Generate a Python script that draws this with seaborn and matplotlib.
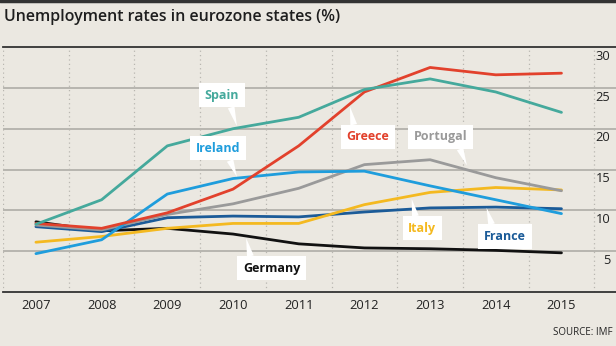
import matplotlib
matplotlib.use("Agg")
import matplotlib.pyplot as plt
import seaborn as sns
import pandas as pd
import numpy as np

years = [2007, 2008, 2009, 2010, 2011, 2012, 2013, 2014, 2015]
spain = [8.3, 11.3, 17.9, 20.0, 21.4, 24.8, 26.1, 24.5, 22.0]
greece = [8.4, 7.8, 9.7, 12.6, 17.9, 24.5, 27.5, 26.6, 26.8]
ireland = [4.7, 6.4, 12.0, 13.9, 14.7, 14.8, 13.0, 11.3, 9.6]
portugal = [8.2, 7.6, 9.5, 10.8, 12.7, 15.6, 16.2, 14.0, 12.4]
italy = [6.1, 6.8, 7.8, 8.4, 8.4, 10.7, 12.2, 12.8, 12.5]
france = [8.0, 7.4, 9.1, 9.3, 9.2, 9.8, 10.3, 10.4, 10.2]
germany = [8.6, 7.5, 7.8, 7.1, 5.9, 5.4, 5.3, 5.1, 4.8]

countries = ["Spain", "Greece", "Ireland", "Portugal", "Italy", "France", "Germany"]
series = [spain, greece, ireland, portugal, italy, france, germany]
colors = {"Spain": "#45a99c", "Greece": "#e2412c", "Ireland": "#1f9ddc",
          "Portugal": "#9a9a9a", "Italy": "#f4b920", "France": "#1b5b98",
          "Germany": "#111111"}
yticks = [5, 10, 15, 20, 25, 30]

df = pd.DataFrame([(c, y, v) for c, s in zip(countries, series) for y, v in zip(years, s)],
                  columns=["country", "year", "rate"])

bg = "#ebe8e1"
sns.set_theme(style="white")
plt.rcParams["font.family"] = ["Open Sans", "DejaVu Sans"]

fig = plt.figure(figsize=(6.16, 3.46), dpi=100, facecolor=bg)
ax = fig.add_axes([0.005, 0.156, 0.995, 0.708])
ax.set_facecolor(bg)

# grid
for v in yticks[:-1]:
    ax.axhline(v, color="#b3b1ab", lw=1.3, zorder=1)
for x in np.arange(2006.5, 2016, 1.0):
    ax.axvline(x, color="#b8b6b0", lw=0.9, ls=(0, (1, 2.5)), zorder=1)

sns.lineplot(data=df, x="year", y="rate", hue="country", palette=colors,
             hue_order=countries[::-1], lw=2.0, ax=ax, legend=False, zorder=3)

ax.set_xlim(2006.5, 2015.83)
ax.set_ylim(0, 30)
for s in ["left", "right"]:
    ax.spines[s].set_visible(False)
ax.spines["top"].set_color("#333333")
ax.spines["top"].set_linewidth(1.3)
ax.spines["bottom"].set_color("#333333")
ax.spines["bottom"].set_linewidth(1.3)
ax.set_xticks(years)
ax.set_xticklabels([str(y) for y in years], fontsize=9.3, color="#222222")
ax.tick_params(axis="x", length=0, pad=5)
ax.set_yticks([])
ax.set_xlabel("")
ax.set_ylabel("")

for v in yticks:
    ax.annotate(str(v), xy=(1.0, v), xycoords=("axes fraction", "data"),
                xytext=(-4, -2), textcoords="offset points",
                ha="right", va="top", fontsize=9.3, color="#222222")

# callouts: (label, text pos, tip pos, relpos)
labels = [
    ("Spain", (2009.83, 24.1), (2010.06, 20.3), (0.72, 0)),
    ("Ireland", (2009.77, 17.6), (2010.06, 14.1), (0.72, 0)),
    ("Germany", (2010.59, 2.9), (2010.2, 6.6), (0.15, 1)),
    ("Greece", (2012.05, 19.0), (2011.78, 22.7), (0.2, 1)),
    ("Portugal", (2013.16, 19.0), (2013.56, 15.5), (0.82, 0)),
    ("Italy", (2012.88, 7.8), (2012.72, 11.4), (0.3, 1)),
    ("France", (2014.14, 6.8), (2013.86, 10.3), (0.22, 1)),
]
for name, tpos, tip, rp in labels:
    ax.annotate(name, xy=tip, xytext=tpos, ha="center", va="center",
                fontsize=9, fontweight="bold", color=colors[name], zorder=6,
                bbox=dict(boxstyle="square,pad=0.45", fc="white", ec="none"),
                arrowprops=dict(arrowstyle="wedge,tail_width=0.55,shrink_factor=0.5",
                                fc="white", ec="none", relpos=rp,
                                shrinkA=0, shrinkB=0))

fig.text(0.007, 0.95, "Unemployment rates in eurozone states (%)", ha="left",
         va="center", fontsize=11.5, fontweight="semibold", color="#1e1e1e")
fig.text(0.994, 0.022, "SOURCE: IMF", ha="right", va="bottom", fontsize=7,
         color="#222222")
fig.add_artist(plt.Line2D([0, 1], [0.996, 0.996], color="#333333", lw=2.5,
                          transform=fig.transFigure))

fig.savefig("out.png", dpi=100, facecolor=bg)
